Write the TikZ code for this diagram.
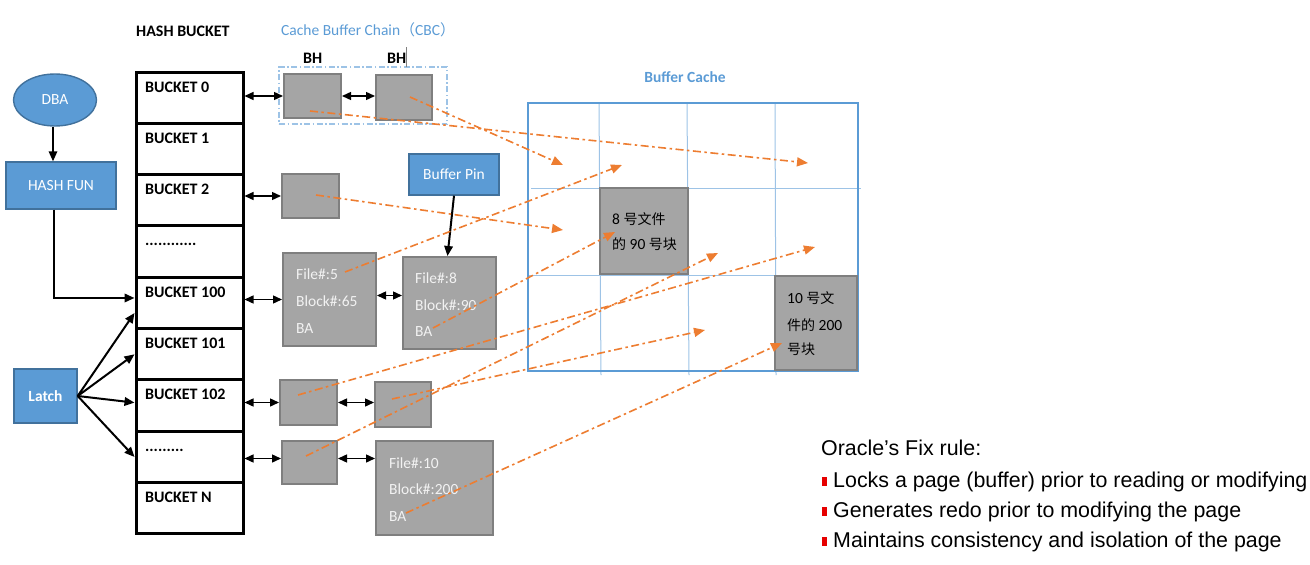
\documentclass[tikz,border=0pt]{standalone}
\usepackage{fontspec}
\setmainfont{Carlito}
\newfontfamily\cjk{Noto Sans CJK SC}
\newfontfamily\arialf{Liberation Sans}
\usetikzlibrary{arrows.meta,calc,shapes.geometric}
\definecolor{bluefill}{HTML}{5B9BD5}
\definecolor{blueedge}{HTML}{41719C}
\definecolor{greyfill}{HTML}{A5A5A5}
\definecolor{greyedge}{HTML}{7F7F7F}
\definecolor{orng}{HTML}{ED7D31}
\definecolor{lightblue}{HTML}{9DC3E6}
\definecolor{bulletred}{HTML}{E60000}
\tikzset{
  f15/.style={font=\fontsize{15.5}{18}\selectfont},
  bluebox/.style={draw=blueedge, fill=bluefill, line width=1.4pt, text=white, f15, inner sep=0pt},
  greybox/.style={draw=greyedge, fill=greyfill, line width=2pt, inner sep=0pt},
  bucketrow/.style={draw=black, line width=3pt, minimum width=107pt, minimum height=51.33pt, inner sep=0pt},
  btext/.style={font=\bfseries\fontsize{16}{19}\selectfont, anchor=base west, inner sep=0pt},
  ftext/.style={f15, text=white!95!black, anchor=base west, inner sep=0pt},
  ctext/.style={f15, text=black, anchor=base west, inner sep=0pt},
  dbl/.style={{Triangle[length=9pt,width=8pt]}-{Triangle[length=9pt,width=8pt]}, line width=1.4pt},
  blk/.style={-{Triangle[length=10pt,width=8.5pt]}, line width=2pt},
  orangearrow/.style={orng, line width=1.6pt, dash pattern=on 8pt off 3.5pt on 2.5pt off 3.5pt, -{Triangle[length=11pt,width=9pt]}},
  rtext/.style={font=\arialf\fontsize{21.4}{25}\selectfont, anchor=base west, inner sep=0pt}
}
\begin{document}
\begin{tikzpicture}[x=1pt,y=-1pt]
\useasboundingbox (0,0) rectangle (1310,565);

% ---- left side: DBA, HASH FUN, Latch
\node[bluebox, ellipse, minimum width=83pt, minimum height=52pt] (dba) at (55,100) {DBA};
\node[bluebox, minimum width=110pt, minimum height=47pt] (hash) at (61,185.5) {HASH FUN};
\node[bluebox, minimum width=63pt, minimum height=54pt, font=\bfseries\fontsize{15.5}{18}\selectfont] (latch) at (45.5,396) {Latch};
\draw[blk, line width=1.6pt] ([xshift=-2pt]dba.south) -- ([xshift=-8pt]hash.north);

% ---- hash buckets
\node[btext] (hbt) at (136,36) {HASH BUCKET};
\foreach \i/\t in {0/BUCKET 0,1/BUCKET 1,2/BUCKET 2,3/{............},4/BUCKET 100,5/BUCKET 101,6/BUCKET 102,7/{.........},8/BUCKET N}{
  \node[bucketrow] (b\i) at (189.5,{72+(\i+0.5)*51.33}) {};
  \node[btext] (bt\i) at (145,{92+\i*51.33}) {\t};
}

\draw[blk] ([xshift=-7pt]hash.south) |- ([yshift=5pt]b4.west);
\draw[blk] (latch.east) -- ([yshift=-10pt]b4.west);
\draw[blk] (latch.east) -- (b5.west);
\draw[blk] (latch.east) -- ([yshift=3pt]b6.west);
\draw[blk] (latch.east) -- (b7.west);

% ---- cache buffer chain
\node[f15, text=bluefill, anchor=base west, inner sep=0pt] (cbcl) at (281,35) {Cache Buffer Chain{\cjk\fontsize{15}{18}\selectfont （}CBC{\cjk\fontsize{15}{18}\selectfont ）}};
\node[draw=lightblue, line width=1.4pt, dash pattern=on 6pt off 2.5pt on 1.5pt off 2.5pt, minimum width=168pt, minimum height=57pt, inner sep=0pt] (cbc) at (363,95.5) {};
\node[btext] (bh1) at (303,63) {BH};
\node[btext] (bh2) at (387,63) {BH};
\draw[gray, line width=0.6pt] (406,47) -- (406,67);

\node[greybox, minimum width=57pt, minimum height=44pt] (h0a) at (312.5,96) {};
\node[greybox, minimum width=56pt, minimum height=45pt] (h0b) at (404,97.5) {};
\node[greybox, minimum width=57pt, minimum height=44pt] (h2) at (310.5,196) {};
\node[greybox, minimum width=93pt, minimum height=93pt] (f5) at (329.5,299.5) {};
\node[greybox, minimum width=93pt, minimum height=92pt] (f8) at (449.5,303) {};
\node[greybox, minimum width=57pt, minimum height=45pt] (h6a) at (308.5,402.5) {};
\node[greybox, minimum width=56pt, minimum height=45pt] (h6b) at (403,404.5) {};
\node[greybox, minimum width=55pt, minimum height=43pt] (h7a) at (309.5,462.5) {};
\node[greybox, minimum width=117pt, minimum height=94pt] (f10) at (434.5,488) {};

\node[ftext] (f5a) at (296,279) {File\#:5};
\node[ftext] (f5b) at (296,306) {Block\#:65};
\node[ftext] (f5c) at (296,333) {BA};
\node[ftext] (f8a) at (415,283) {File\#:8};
\node[ftext] (f8b) at (415,310) {Block\#:90};
\node[ftext] (f8c) at (415,336) {BA};
\node[ftext] (f10a) at (389,468) {File\#:10};
\node[ftext] (f10b) at (389,494) {Block\#:200};
\node[ftext] (f10c) at (389,521) {BA};

\draw[dbl] (h0a.west -| b0.east) -- (h0a.west);
\draw[dbl] (h0a.east) -- (h0a.east -| h0b.west);
\draw[dbl] (h2.west -| b2.east) -- (h2.west);
\draw[dbl] (f5.west -| b4.east) -- (f5.west);
\draw[dbl] ([yshift=4pt]f5.east) -- ([yshift=4pt]f5.east -| f8.west);
\draw[dbl] (h6a.west -| b6.east) -- (h6a.west);
\draw[dbl] (h6a.east) -- (h6a.east -| h6b.west);
\draw[dbl] ([yshift=4pt]h7a.west -| b7.east) -- ([yshift=4pt]h7a.west);
\draw[dbl] ([yshift=4pt]h7a.east) -- ([yshift=4pt]h7a.east -| f10.west);

% ---- buffer pin
\node[bluebox, minimum width=90pt, minimum height=41pt] (pin) at (454,174.5) {Buffer Pin};
\draw[blk] (pin.south) -- ([xshift=-2pt]f8.north);

% ---- buffer cache grid
\node[font=\bfseries\fontsize{15.5}{18}\selectfont, text=bluefill, inner sep=0pt] (bcl) at (685,77) {Buffer Cache};
\draw[lightblue, line width=1pt] (599,103) -- (601,375);
\draw[lightblue, line width=1pt] (687,103) -- (689,375);
\draw[lightblue, line width=1pt] (775,103) -- (776,375);
\draw[lightblue, line width=1pt] (531,188) -- (861,188);
\draw[lightblue, line width=1pt] (528,275) -- (858,275);
\node[draw=bluefill, line width=2pt, minimum width=330pt, minimum height=268pt, inner sep=0pt] (cache) at (693,237) {};
\node[greybox, minimum width=88pt, minimum height=86pt] (c8) at (644,231) {};
\node[greybox, minimum width=82pt, minimum height=94pt] (c10) at (816,323) {};
\node[ctext] (c8a) at (612,224) {8 {\cjk\fontsize{14}{16}\selectfont 号文件}};
\node[ctext] (c8b) at (612,249) {{\cjk\fontsize{14}{16}\selectfont 的} 90 {\cjk\fontsize{14}{16}\selectfont 号块}};
\node[ctext] (c10a) at (787,303) {10 {\cjk\fontsize{14}{16}\selectfont 号文}};
\node[ctext] (c10b) at (787,330) {{\cjk\fontsize{14}{16}\selectfont 件的} 200};
\node[ctext] (c10c) at (787,354) {{\cjk\fontsize{14}{16}\selectfont 号块}};

% ---- orange pointers
\coordinate (s1) at (310,111); \coordinate (e1) at (808,163);
\coordinate (s2) at (410,97);  \coordinate (e2) at (563,165);
\coordinate (s3) at (316,195); \coordinate (e3) at (563,230);
\coordinate (s4) at (345,272); \coordinate (e4) at (622,165);
\coordinate (s5) at (433,328); \coordinate (e5) at (615,232);
\coordinate (s6) at (298,395); \coordinate (e6) at (815,247);
\coordinate (s7) at (306,456); \coordinate (e7) at (718,253);
\coordinate (s8) at (392,399); \coordinate (e8) at (705,330);
\coordinate (s9) at (406,513); \coordinate (e9) at (782,343);
\foreach \k in {1,...,9}{\draw[orangearrow] (s\k) -- (e\k);}

% ---- Fix rule text
\node[rtext] (fr0) at (821,455.5) {Oracle’s Fix rule:};
\node[rtext] (fr1) at (833,487.5) {Locks a page (buffer) prior to reading or modifying};
\node[rtext] (fr2) at (833,517.5) {Generates redo prior to modifying the page};
\node[rtext] (fr3) at (833,547.5) {Maintains consistency and isolation of the page};
\fill[bulletred] (821.5,477) rectangle (827,486);
\fill[bulletred] (821.5,507) rectangle (827,516);
\fill[bulletred] (821.5,537) rectangle (827,546);
\end{tikzpicture}
\end{document}
